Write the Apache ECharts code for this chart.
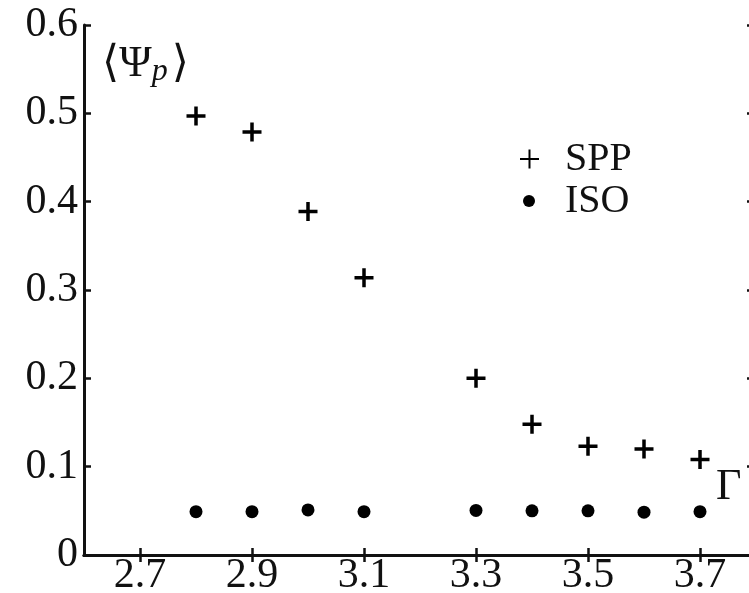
<!DOCTYPE html>
<html>
<head>
<meta charset="utf-8">
<script src="https://cdn.jsdelivr.net/npm/echarts@6/dist/echarts.min.js"></script>
<style>html,body{margin:0;padding:0;background:#fff;}#c{width:749px;height:593px;}</style>
</head>
<body>
<div id="c"></div>
<script>
// Data
var gammaValues = [2.8, 2.9, 3.0, 3.1, 3.3, 3.4, 3.5, 3.6, 3.7];
var sppValues = [0.497, 0.479, 0.389, 0.314, 0.200, 0.148, 0.123, 0.120, 0.108];
var isoValues = [0.049, 0.049, 0.051, 0.049, 0.0505, 0.050, 0.050, 0.0485, 0.049];
var xTickValues = [2.7, 2.9, 3.1, 3.3, 3.5, 3.7];
var xTickLabels = ['2.7', '2.9', '3.1', '3.3', '3.5', '3.7'];
var yTickLabels = ['0', '0.1', '0.2', '0.3', '0.4', '0.5', '0.6'];

var FONT = "'Liberation Serif', 'DejaVu Serif', serif";
var INK = '#111';
var crossPath = 'path://M7.75,0 H11.25 V7.75 H19 V11.25 H11.25 V19 H7.75 V11.25 H0 V7.75 H7.75 Z';
var crossThin = 'path://M8.5,0 H10.5 V8.5 H19 V10.5 H10.5 V19 H8.5 V10.5 H0 V8.5 H8.5 Z';

function pairs(xs, ys) { return xs.map(function (x, i) { return [x, ys[i]]; }); }
function xLabel(v) {
  for (var i = 0; i < xTickValues.length; i++) if (Math.abs(xTickValues[i] - v) < 1e-6) return xTickLabels[i];
  return '';
}

var chart = echarts.init(document.getElementById('c'), null, {renderer: 'canvas'});
var axisLine = {show: true, lineStyle: {color: INK, width: 3}};
var tickStyle = {color: INK, width: 2.5};

chart.setOption({
  animation: false,
  backgroundColor: '#fff',
  grid: {left: 84, top: 25, width: 672, height: 530, containLabel: false, outerBoundsMode: 'none'},
  xAxis: [{
    type: 'value', min: 2.6, max: 3.8, position: 'bottom',
    axisLine: axisLine,
    axisTick: {show: true, inside: true, length: 7, lineStyle: tickStyle, customValues: xTickValues},
    axisLabel: {show: true, customValues: xTickValues, formatter: xLabel, color: INK,
      fontFamily: FONT, fontSize: 42, margin: 0},
    splitLine: {show: false}
  }, {
    type: 'value', min: 2.6, max: 3.8, position: 'top',
    axisLine: axisLine,
    axisTick: {show: true, inside: true, length: 7, lineStyle: tickStyle, customValues: xTickValues},
    axisLabel: {show: false},
    splitLine: {show: false}
  }],
  yAxis: [{
    type: 'value', min: 0, max: 0.6, interval: 0.1, position: 'left',
    axisLine: axisLine,
    axisTick: {show: true, inside: true, length: 7, lineStyle: tickStyle},
    axisLabel: {show: true, color: INK, fontFamily: FONT, fontSize: 42, margin: 6,
      formatter: function (v) { return yTickLabels[Math.round(v * 10)]; }},
    splitLine: {show: false}
  }, {
    type: 'value', min: 0, max: 0.6, interval: 0.1, position: 'right',
    axisLine: axisLine,
    axisTick: {show: true, inside: true, length: 9, lineStyle: tickStyle},
    axisLabel: {show: false},
    splitLine: {show: false}
  }],
  legend: [{
    data: [{name: 'SPP', icon: crossThin}],
    left: 515, top: 134, itemWidth: 19, itemHeight: 19,
    textStyle: {fontFamily: FONT, fontSize: 40, color: INK, padding: [0, 0, 0, 21]},
    selectedMode: false
  }, {
    data: [{name: 'ISO', icon: 'circle'}],
    left: 518, top: 176, itemWidth: 12, itemHeight: 12,
    textStyle: {fontFamily: FONT, fontSize: 40, color: INK, padding: [0, 0, 0, 25]},
    selectedMode: false
  }],
  graphic: [{
    type: 'text', left: 102, top: 42,
    style: {
      text: '{a|⟨Ψ}{b|p}{a|⟩}',
      rich: {
        a: {fontFamily: FONT, fontSize: 44, fill: INK},
        b: {fontFamily: FONT, fontSize: 32, fontStyle: 'italic', fill: INK, padding: [16, 4, 0, 0]}
      }
    }
  }, {
    type: 'text', left: 716, top: 465,
    style: {text: 'Γ', fontFamily: FONT, fontSize: 44, fill: INK}
  }],
  series: [{
    name: 'SPP', type: 'scatter', xAxisIndex: 0, yAxisIndex: 0,
    data: pairs(gammaValues, sppValues),
    symbol: crossPath, symbolSize: 19,
    itemStyle: {color: '#000', opacity: 1}
  }, {
    name: 'ISO', type: 'scatter', xAxisIndex: 0, yAxisIndex: 0,
    data: pairs(gammaValues, isoValues),
    symbol: 'circle', symbolSize: 13,
    itemStyle: {color: '#000', opacity: 1}
  }]
});
</script>
</body>
</html>
